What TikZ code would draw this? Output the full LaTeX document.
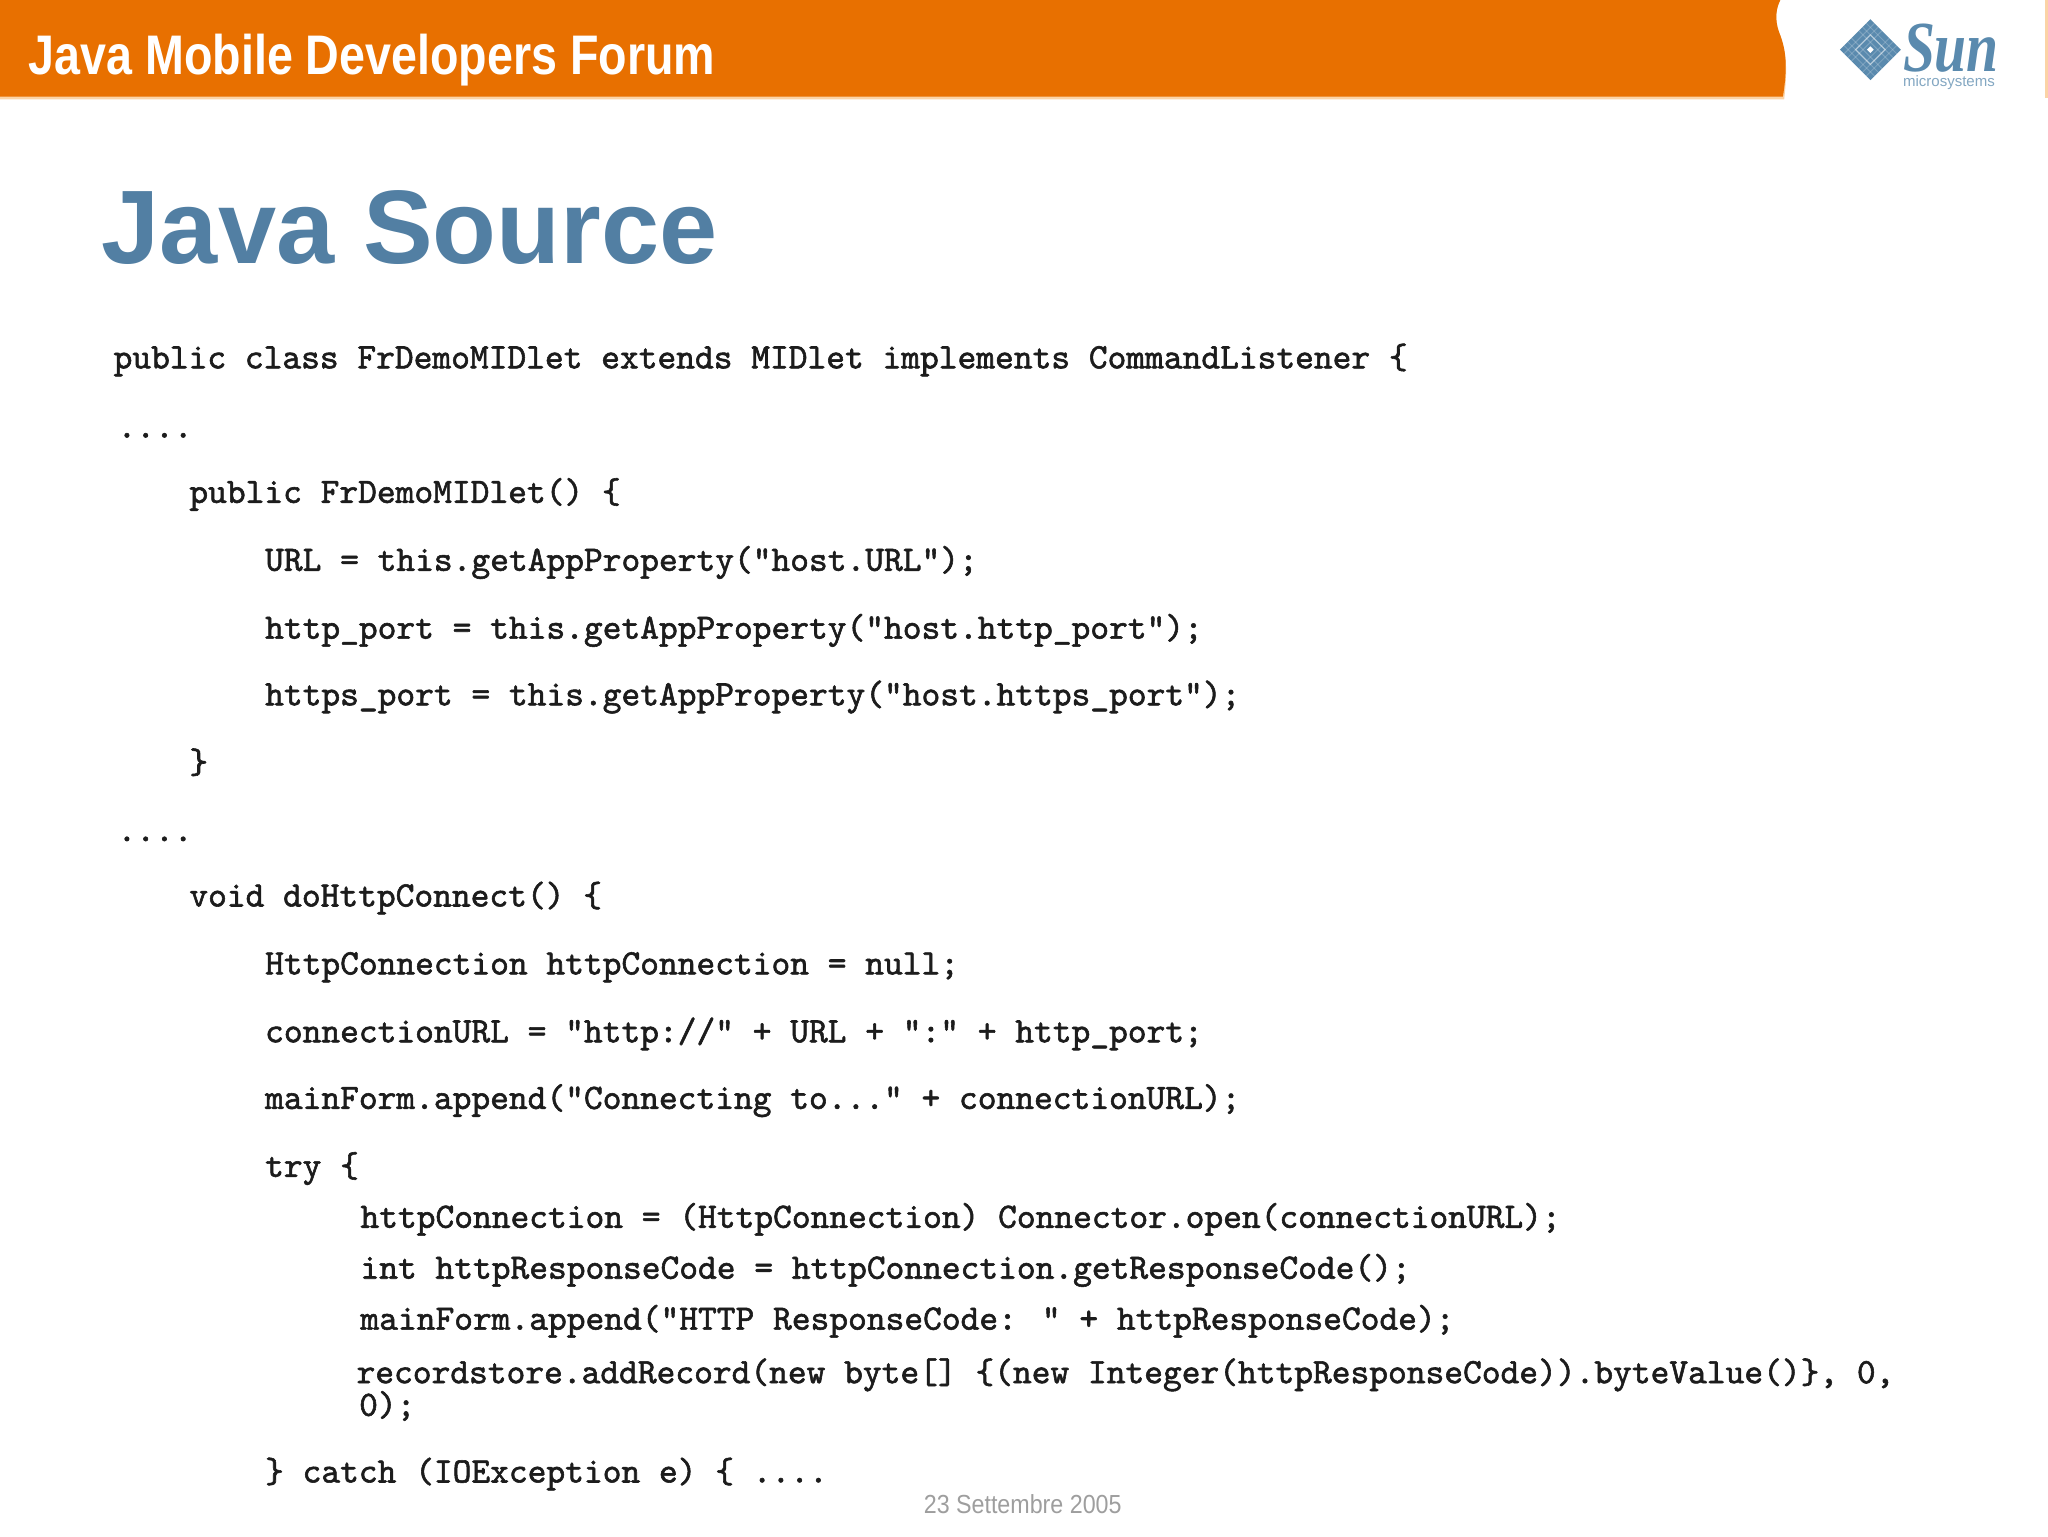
\documentclass[tikz,border=0pt]{standalone}
\usepackage{fontspec}
\setmainfont{Liberation Sans}
\newfontfamily\logofont{Liberation Serif}
\newfontfamily\codefont{lmmono10-regular.otf}[FakeBold=1.6]
\definecolor{bandorange}{HTML}{E87000}
\definecolor{fringe}{HTML}{FBD3A6}
\definecolor{titleblue}{HTML}{527FA3}
\definecolor{logoblue}{HTML}{5A8AAE}
\definecolor{codeink}{HTML}{1C1C1C}
\tikzset{
  every node/.style={inner sep=0pt,outer sep=0pt},
  codeline/.style={anchor=base west,text=codeink,font=\codefont\fontsize{27.35}{30}\selectfont},
  bandtext/.style={anchor=base west,text=white,xscale=.836,transform shape,font=\bfseries\fontsize{42.7}{46}\selectfont},
  slidetitle/.style={anchor=base west,text=titleblue,font=\bfseries\fontsize{80}{86}\selectfont},
  footer/.style={anchor=base,text=black!38,xscale=.89,transform shape,font=\fontsize{20}{22}\selectfont},
  logoword/.style={anchor=base west,text=logoblue,xscale=.8,transform shape,font=\logofont\bfseries\itshape\fontsize{55}{58}\selectfont},
  logosub/.style={anchor=base west,text=logoblue!75,font=\fontsize{11.5}{12}\selectfont},
}
\begin{document}
\begin{tikzpicture}[x=1pt,y=-1pt]
\useasboundingbox (0,0) rectangle (1568,1176);
\fill[white] (0,0) rectangle (1568,1176);
% header band
\fill[fringe] (0,0) -- (1363,0) .. controls (1358,10) and (1360,20) .. (1363,27)
  .. controls (1367,38) and (1369,50) .. (1366,76) -- (0,76) -- cycle;
\fill[bandorange] (0,0) -- (1363,0) .. controls (1358,10) and (1360,20) .. (1363,27)
  .. controls (1367,38) and (1369,50) .. (1365,74) -- (0,74) -- cycle;
\fill[fringe] (1566,0) rectangle (1568,75);
\node[bandtext] (band) at (22,57) {Java Mobile Developers Forum};
% logo
\begin{scope}[shift={(1432,38)},rotate=45]
  \fill[logoblue] (-16.5,-16.5) rectangle (16.5,16.5);
  \foreach \k in {-12,-8,-4,4,8,12} {
    \draw[white,opacity=.2,line width=.7pt] (\k,-16.5) -- (\k,16.5);
    \draw[white,opacity=.2,line width=.7pt] (-16.5,\k) -- (16.5,\k);
  }
  \draw[white,opacity=.45,line width=1pt] (-8,-8) rectangle (8,8);
  \fill[white] (-1.8,-1.8) rectangle (1.8,1.8);
\end{scope}
\node[logoword] (sun) at (1457,55) {Sun};
\node[logosub] (micro) at (1457,66) {microsystems};
% title
\node[slidetitle] (title) at (78,202) {Java Source};
% code
\node[codeline] (l1) at (87,282) {public class FrDemoMIDlet extends MIDlet implements CommandListener \{};
\node[codeline] (l2) at (90,335) {....};
\node[codeline] (l3) at (145,385) {public FrDemoMIDlet() \{};
\node[codeline] (l4) at (203,437) {URL = this.getAppProperty("host.URL");};
\node[codeline] (l5) at (203,489) {http\_port = this.getAppProperty("host.http\_port");};
\node[codeline] (l6) at (203,540) {https\_port = this.getAppProperty("host.https\_port");};
\node[codeline] (l7) at (145,592) {\}};
\node[codeline] (l8) at (90,644) {....};
\node[codeline] (l9) at (145,694) {void doHttpConnect() \{};
\node[codeline] (l10) at (203,746) {HttpConnection httpConnection = null;};
\node[codeline] (l11) at (203,798) {connectionURL = "http://" + URL + ":" + http\_port;};
\node[codeline] (l12) at (203,849) {mainForm.append("Connecting to..." + connectionURL);};
\node[codeline] (l13) at (203,901) {try \{};
\node[codeline] (l14) at (276,940) {httpConnection = (HttpConnection) Connector.open(connectionURL);};
\node[codeline] (l15) at (276,979) {int httpResponseCode = httpConnection.getResponseCode();};
\node[codeline] (l16) at (276,1018) {mainForm.append("HTTP ResponseCode: " + httpResponseCode);};
\node[codeline] (l17) at (273,1059) {recordstore.addRecord(new byte[] \{(new Integer(httpResponseCode)).byteValue()\}, 0,};
\node[codeline] (l18) at (275,1084) {0);};
\node[codeline] (l19) at (203,1135) {\} catch (IOException e) \{ ....};
% footer
\node[footer] (date) at (783,1159) {23 Settembre 2005};
\end{tikzpicture}
\end{document}
